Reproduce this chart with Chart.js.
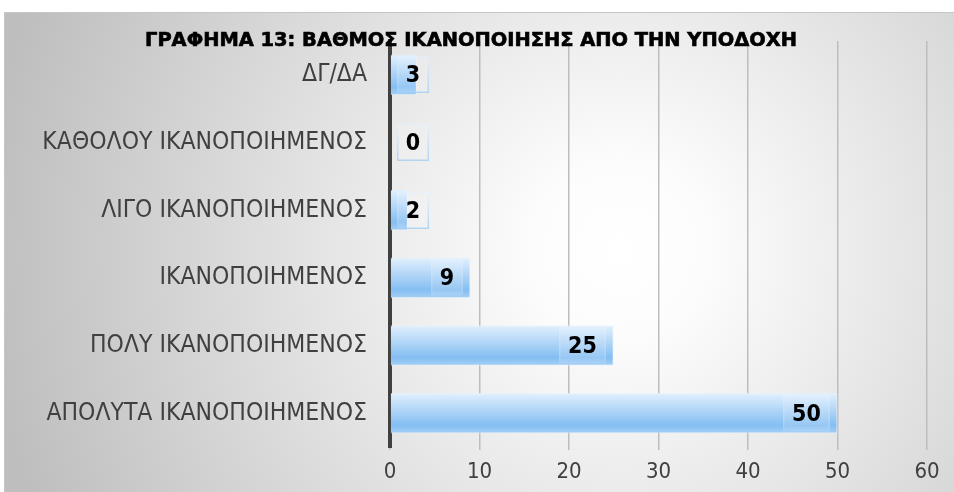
<!DOCTYPE html>
<html><head><meta charset="utf-8">
<style>html,body{margin:0;padding:0;background:#fff}#wrap{width:954px;height:492px;position:relative}</style>
<script src="https://cdn.jsdelivr.net/npm/chart.js@4"></script>
</head><body><div id="wrap"><canvas id="c" width="954" height="492"></canvas></div>
<script>
const titleText = 'ΓΡΑΦΗΜΑ 13: ΒΑΘΜΟΣ ΙΚΑΝΟΠΟΙΗΣΗΣ ΑΠΟ ΤΗΝ ΥΠΟΔΟΧΗ';
const categories = ['ΔΓ/ΔΑ','ΚΑΘΟΛΟΥ ΙΚΑΝΟΠΟΙΗΜΕΝΟΣ','ΛΙΓΟ ΙΚΑΝΟΠΟΙΗΜΕΝΟΣ','ΙΚΑΝΟΠΟΙΗΜΕΝΟΣ','ΠΟΛΥ ΙΚΑΝΟΠΟΙΗΜΕΝΟΣ','ΑΠΟΛΥΤΑ ΙΚΑΝΟΠΟΙΗΜΕΝΟΣ'];
const values = [3,0,2,9,25,50];
const xMin = 0, xMax = 60, xStep = 10;

const FAM = "'DejaVu Sans Condensed', 'DejaVu Sans', sans-serif";

const bgPlugin = {
  id:'bg',
  beforeDraw(chart){
    const ctx = chart.ctx;
    ctx.save();
    ctx.fillStyle = '#ffffff';
    ctx.fillRect(0,0,chart.width,chart.height);
    const g = ctx.createRadialGradient(620,250,0,620,250,640);
    g.addColorStop(0,'#ffffff');
    g.addColorStop(0.14,'#fcfcfc');
    g.addColorStop(1,'#bebebe');
    ctx.fillStyle = g;
    ctx.fillRect(4,12,chart.width-4,chart.height-12);
    ctx.strokeStyle = '#c6c6c6';
    ctx.lineWidth = 1;
    ctx.beginPath();
    ctx.moveTo(4,12.5); ctx.lineTo(chart.width,12.5);
    ctx.moveTo(4.5,12); ctx.lineTo(4.5,chart.height);
    ctx.stroke();
    ctx.restore();
  },
  beforeDatasetsDraw(chart){
    const ctx = chart.ctx;
    chart.getDatasetMeta(0).data.forEach(el=>{
      const top = el.y - el.height/2, bot = el.y + el.height/2;
      const g = ctx.createLinearGradient(0,top,0,bot);
      g.addColorStop(0,'#e2f1fe');
      g.addColorStop(0.35,'#badaf8');
      g.addColorStop(0.8,'#84bef2');
      g.addColorStop(1,'#a6d0f6');
      el.options.backgroundColor = g;
    });
  },
  afterDatasetsDraw(chart){
    const ctx = chart.ctx;
    const area = chart.chartArea;
    const ds = chart.data.datasets[0];
    ctx.save();
    ctx.font = 'bold 23px ' + FAM;
    ctx.textAlign = 'center';
    ctx.textBaseline = 'middle';
    chart.getDatasetMeta(0).data.forEach((el,i)=>{
      const txt = String(ds.data[i]);
      const tw = ctx.measureText(txt).width;
      const bw = Math.round(tw + 18);
      const bh = Math.round(el.height - 4);
      const right = Math.round(Math.max(el.x - 8, area.left + 7 + bw));
      const left = right - bw;
      const top = Math.round(el.y - bh/2);
      ctx.fillStyle = 'rgba(255,255,255,0.15)';
      ctx.fillRect(left, top, bw, bh);
      const sg = ctx.createLinearGradient(0, top, 0, top + bh);
      sg.addColorStop(0,'rgba(228,240,253,0.6)');
      sg.addColorStop(1,'rgba(160,205,246,0.8)');
      ctx.strokeStyle = sg;
      ctx.lineWidth = 1.5;
      ctx.strokeRect(left+0.75, top+0.75, bw-1.5, bh-1.5);
      ctx.fillStyle = '#000000';
      ctx.fillText(txt, left + bw/2, el.y + 1.5);
    });
    ctx.restore();
  },
  afterDraw(chart){
    const ctx = chart.ctx;
    ctx.save();
    ctx.font = 'bold 19px ' + FAM;
    ctx.fillStyle = '#000000';
    ctx.strokeStyle = '#000000';
    ctx.lineWidth = 0.6;
    ctx.textBaseline = 'alphabetic';
    ctx.textAlign = 'center';
    const w = ctx.measureText(titleText).width;
    const sx = 652 / w;
    ctx.translate(471, 46);
    ctx.scale(sx, 1);
    ctx.fillText(titleText, 0, 0);
    ctx.strokeText(titleText, 0, 0);
    ctx.restore();
  }
};

new Chart(document.getElementById('c'), {
  type:'bar',
  data:{
    labels: categories,
    datasets:[{
      data: values,
      backgroundColor: (c)=>'#a6d0f5',
      borderColor: 'rgba(235,245,255,0.7)',
      borderWidth: 1,
      borderSkipped: 'start',
      categoryPercentage: 1,
      barPercentage: 0.6
    }]
  },
  options:{
    indexAxis:'y',
    responsive:false,
    animation:false,
    devicePixelRatio:1,
    layout:{padding:{top:41,right:27,left:0,bottom:0}},
    plugins:{legend:{display:false},tooltip:{enabled:false},title:{display:false}},
    scales:{
      x:{
        type:'linear', min:xMin, max:xMax,
        ticks:{stepSize:xStep, color:'#404040', font:{family:FAM,size:22}, padding:9},
        grid:{color:'#bdbdbd', lineWidth:1.5, drawTicks:true, tickLength:3, tickColor:'#bdbdbd'},
        border:{display:false},
        afterFit(s){ s.height = 45; }
      },
      y:{
        type:'category',
        z:1,
        ticks:{color:'#404040', font:{family:FAM,size:24.5}, padding:23},
        grid:{display:false, drawTicks:false},
        border:{display:true, color:'#404040', width:4},
        afterFit(s){ s.width = 390; }
      }
    }
  },
  plugins:[bgPlugin]
});
</script></body></html>
